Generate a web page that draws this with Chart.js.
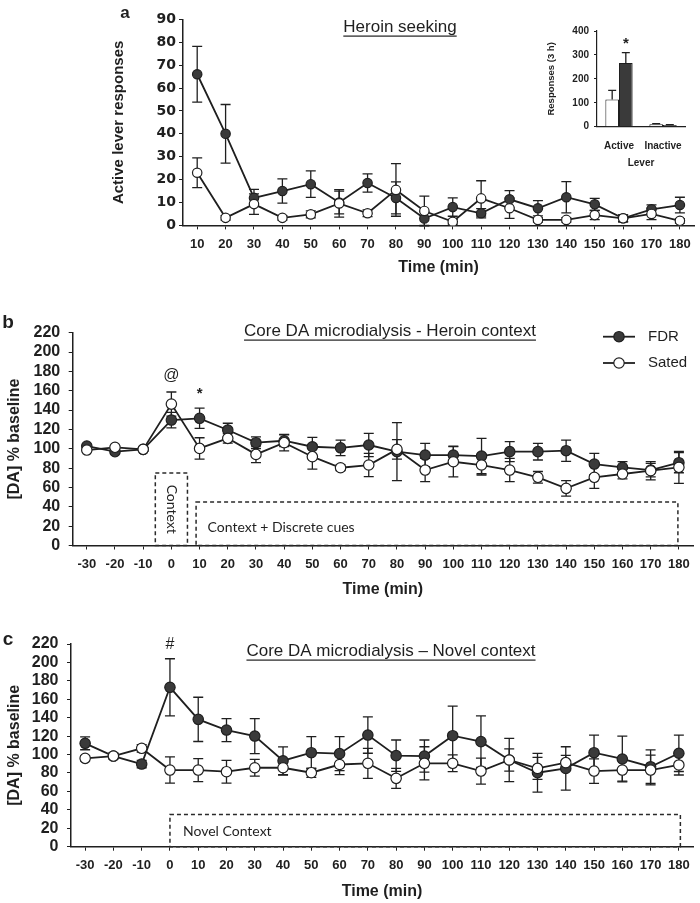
<!DOCTYPE html>
<html>
<head>
<meta charset="utf-8">
<script src="https://cdn.jsdelivr.net/npm/chart.js@4.4.0/dist/chart.umd.min.js"></script>
<style>
body { margin: 0; background: #fff; width: 700px; height: 903px; overflow: hidden; position: relative; }
canvas { position: absolute; left: 0; }
</style>
</head>
<body>
<canvas id="chartA" width="700" height="290" style="top:0px"></canvas>
<canvas id="chartIn" width="155" height="160" style="left:540px;top:20px"></canvas>
<canvas id="chartB" width="700" height="310" style="top:300px"></canvas>
<canvas id="chartC" width="700" height="283" style="top:620px"></canvas>
<script>
// panel a - heroin seeking, active lever responses per 10 min
var timesA = ['10','20','30','40','50','60','70','80','90','100','110','120','130','140','150','160','170','180'];
var fdrA     = [66, 40, 12, 15, 18, 10, 18.5, 12, 3, 8, 5.3, 11.4, 7.5, 12.3, 9.2, 3.1, 7, 8.9];
var fdrAErr  = [12.2, 12.8, 3.7, 5.3, 5.8, 5, 4, 7, 3, 4, 2, 3.8, 3.3, 6.8, 2.6, 1.5, 2, 3.4];
var satedA    = [23, 3.3, 9.3, 3.3, 4.8, 9.6, 5.3, 15.5, 6.3, 1.6, 11.8, 7.5, 2.4, 2.4, 4.5, 3.1, 5, 2];
var satedAErr = [6.5, 1, 4.5, 1, 1.5, 6, 1.5, 11.5, 6.5, 1, 7.7, 4.4, 1, 1, 2, 1.5, 2.5, 1];

// inset - total responses (3 h)
var leverCats = ['Active', 'Inactive'];
var satedTot    = [114, 10];
var satedTotErr = [38, 3];
var fdrTot    = [266, 7];
var fdrTotErr = [44, 2];

// panels b and c - [DA] % baseline
var timesBC = ['-30','-20','-10','0','10','20','30','40','50','60','70','80','90','100','110','120','130','140','150','160','170','180'];
var fdrB     = [102.8, 97, 99.4, 129.7, 131.5, 119.4, 106.3, 108.3, 102.1, 101, 103.9, 97, 93.5, 93.5, 92.5, 97, 97, 98, 84.2, 80.8, 78, 85.6];
var fdrBErr  = [2, 2, 2, 8, 10.5, 7, 6, 6, 9.7, 8, 12, 30, 12, 9.3, 18.3, 10.3, 8.6, 11, 11, 6, 7, 10.4];
var satedB    = [98.7, 101.5, 99.4, 146.2, 100.4, 110.8, 94.2, 106.3, 91.8, 80.4, 83.2, 99.4, 78, 86.6, 83.2, 78, 70.5, 59.1, 70.5, 73.9, 77.3, 80.8];
var satedBErr = [2, 2, 2, 12.5, 11, 5, 8.6, 8.5, 12.8, 3, 12, 10, 12, 15.6, 10.3, 12, 6, 8, 11.5, 5, 9.5, 16.5];

var fdrC     = [112.2, 98.4, 89.7, 173, 138.2, 126.6, 120.1, 93.3, 102, 101, 121.2, 98.8, 98.4, 120.5, 114, 94.1, 80.3, 85, 102, 95.2, 86.8, 101.4];
var fdrCErr  = [7, 3, 4, 31, 24, 12.5, 19, 15, 17.4, 18.4, 19.8, 17, 17.4, 32, 28, 23.5, 21, 23.5, 19.2, 24.9, 18.2, 19.8];
var satedC    = [95.9, 98.4, 106.8, 83.2, 83.2, 81.4, 85.7, 85.7, 80.3, 89.2, 90.5, 74.2, 90.5, 90.5, 82.1, 94.1, 85, 91.2, 82.1, 83.2, 83.2, 88.7];
var satedCErr = [3, 3, 4, 14.3, 12.5, 12.3, 9, 8, 5, 11, 16.3, 10.8, 18, 9.1, 14.1, 12, 12, 8, 13.3, 12, 16.2, 10.9];

var ticksA = [0, 10, 20, 30, 40, 50, 60, 70, 80, 90];
var ticksBC = [0, 20, 40, 60, 80, 100, 120, 140, 160, 180, 200, 220];
var ticksIn = [0, 100, 200, 300, 400];

Chart.defaults.font.family = "'Liberation Sans', Arial, sans-serif";
Chart.defaults.color = '#1a1a1a';

var INK = '#1f1f1f';
var DARK = '#3a3a3a';

// error bars (Excel style, drawn behind lines and markers)
var errBars = {
    id: 'errBars',
    beforeDatasetsDraw: function (chart) {
        var ctx = chart.ctx, ys = chart.scales.y;
        ctx.save();
        ctx.strokeStyle = INK;
        ctx.lineWidth = 1.3;
        chart.data.datasets.forEach(function (ds, i) {
            if (!ds.err) return;
            var meta = chart.getDatasetMeta(i);
            meta.data.forEach(function (el, j) {
                var v = ds.data[j], e = ds.err[j];
                var x = el.x;
                var yt = ys.getPixelForValue(v + e);
                var yb = ds.upOnly ? ys.getPixelForValue(v) : ys.getPixelForValue(v - e);
                var cap = ds.cap || 5;
                ctx.beginPath();
                ctx.moveTo(x, yt); ctx.lineTo(x, yb);
                ctx.moveTo(x - cap, yt); ctx.lineTo(x + cap, yt);
                if (!ds.upOnly) { ctx.moveTo(x - cap, yb); ctx.lineTo(x + cap, yb); }
                ctx.stroke();
            });
        });
        ctx.restore();
    }
};

function uText(ctx, txt, cx, cy, size) {
    ctx.save();
    ctx.font = size + "px 'Liberation Sans', Arial, sans-serif";
    ctx.textAlign = 'center';
    ctx.textBaseline = 'middle';
    ctx.fillStyle = INK;
    ctx.fillText(txt, cx, cy);
    var w = ctx.measureText(txt).width;
    ctx.fillRect(cx - w / 2, cy + size * 0.5, w, 1.2);
    ctx.restore();
}

function plainText(ctx, txt, x, y, font, align) {
    ctx.save();
    ctx.font = font;
    ctx.textAlign = align || 'center';
    ctx.textBaseline = 'middle';
    ctx.fillStyle = INK;
    ctx.fillText(txt, x, y);
    ctx.restore();
}

function dashBox(ctx, x0, y0, x1, y1) {
    ctx.save();
    ctx.setLineDash([4, 3]);
    ctx.lineWidth = 1.5;
    ctx.strokeStyle = '#2a2a2a';
    ctx.strokeRect(x0, y0, x1 - x0, y1 - y0);
    ctx.restore();
}

function lineSet(label, data, err, fill, r) {
    return {
        label: label,
        data: data,
        err: err,
        borderColor: INK,
        borderWidth: 1.8,
        pointRadius: r,
        pointHoverRadius: r,
        pointBackgroundColor: fill,
        pointBorderColor: INK,
        pointBorderWidth: 1.2,
        tension: 0,
        fill: false
    };
}

function fixedTicks(vals) {
    return function (s) { s.ticks = vals.map(function (v) { return {value: v}; }); };
}

function lineOpts(o) {
    return {
        responsive: false,
        animation: false,
        devicePixelRatio: 1,
        layout: {padding: {left: 0, right: o.padRight, top: o.padTop, bottom: 0}},
        plugins: {legend: {display: false}, tooltip: {enabled: false}},
        scales: {
            x: {
                type: 'category',
                offset: true,
                afterFit: function (s) { s.height = o.xHeight; },
                grid: {display: true, drawOnChartArea: false, drawTicks: true, tickLength: 4, color: INK},
                border: {display: true, color: INK, width: 1.5},
                ticks: {font: {size: 13, weight: 'bold'}, color: INK, padding: o.xTickPad, maxRotation: 0, autoSkip: false},
                title: {display: true, text: 'Time (min)', font: {size: 16, weight: 'bold'}, color: INK, padding: {top: 0, bottom: o.xTitlePad}}
            },
            y: {
                min: 0, max: o.yMax,
                afterFit: function (s) { s.width = o.yWidth; },
                afterBuildTicks: fixedTicks(o.yTicks),
                grid: {display: true, drawOnChartArea: false, drawTicks: true, tickLength: 4, color: INK},
                border: {display: true, color: INK, width: 1.5},
                ticks: {font: o.yTickFont, color: INK, padding: o.yTickPad, autoSkip: false},
                title: {display: true, text: o.yTitle, font: {size: o.yTitleSize, weight: 'bold'}, color: INK, padding: {top: o.yTitlePad, bottom: 0}}
            }
        }
    };
}

// ---------- panel a ----------
var optsA = lineOpts({
    padRight: 5, padTop: 19.3, xHeight: 64.6, xTickPad: 6.8, xTitlePad: 12.4,
    yMax: 90, yWidth: 183, yTicks: ticksA, yTickPad: 3,
    yTickFont: {family: "'DejaVu Sans', sans-serif", size: 14, weight: 'bold'},
    yTitle: 'Active lever responses', yTitleSize: 15, yTitlePad: 110
});
new Chart(document.getElementById('chartA'), {
    type: 'line',
    data: {
        labels: timesA,
        datasets: [lineSet('Sated', satedA, satedAErr, '#ffffff', 4.7), lineSet('FDR', fdrA, fdrAErr, DARK, 4.7)]
    },
    options: optsA,
    plugins: [errBars, {
        id: 'decoA',
        afterDraw: function (chart) {
            var ctx = chart.ctx;
            plainText(ctx, 'a', 125, 13, "bold 17px 'Liberation Sans', Arial, sans-serif");
            uText(ctx, 'Heroin seeking', 400, 27, 17);
        }
    }]
});

// ---------- inset ----------
new Chart(document.getElementById('chartIn'), {
    type: 'bar',
    data: {
        labels: leverCats,
        datasets: [
            {label: 'Sated', data: satedTot, err: satedTotErr, upOnly: true, cap: 4, backgroundColor: '#ffffff', borderColor: INK, borderWidth: 1},
            {label: 'FDR', data: fdrTot, err: fdrTotErr, upOnly: true, cap: 4, backgroundColor: DARK, borderColor: INK, borderWidth: 1}
        ]
    },
    options: {
        responsive: false,
        animation: false,
        devicePixelRatio: 1,
        layout: {padding: {left: 0, right: 10, top: 10, bottom: 0}},
        plugins: {legend: {display: false}, tooltip: {enabled: false}},
        datasets: {bar: {categoryPercentage: 0.62, barPercentage: 1.0}},
        scales: {
            x: {
                afterFit: function (s) { s.height = 53.3; },
                grid: {display: false},
                border: {display: true, color: INK, width: 1.2},
                ticks: {font: {size: 10, weight: 'bold'}, color: INK, padding: 6},
                title: {display: true, text: 'Lever', font: {size: 10, weight: 'bold'}, color: INK, padding: {top: 0, bottom: 11}}
            },
            y: {
                min: 0, max: 400,
                afterFit: function (s) { s.width = 57; },
                afterBuildTicks: fixedTicks(ticksIn),
                grid: {display: true, drawOnChartArea: false, drawTicks: true, tickLength: 3, color: INK},
                border: {display: true, color: INK, width: 1.2},
                ticks: {font: {size: 10, weight: 'bold'}, color: INK, padding: 5, autoSkip: false},
                title: {display: true, text: 'Responses (3 h)', font: {size: 9.5, weight: 'bold'}, color: INK, padding: {top: 6, bottom: 0}}
            }
        }
    },
    plugins: [{
        id: 'errIn',
        afterDatasetsDraw: function (chart) { errBars.beforeDatasetsDraw(chart); }
    }, {
        id: 'starIn',
        afterDraw: function (chart) {
            var el = chart.getDatasetMeta(1).data[0];
            var y = chart.scales.y.getPixelForValue(fdrTot[0] + fdrTotErr[0]);
            plainText(chart.ctx, '*', el.x, y - 9, "bold 15px 'Liberation Sans', Arial, sans-serif");
        }
    }]
});

// ---------- panel b ----------
var optsB = lineOpts({
    padRight: 7, padTop: 32.7, xHeight: 64.5, xTickPad: 7.2, xTitlePad: 10.4,
    yMax: 220, yWidth: 72.7, yTicks: ticksBC, yTickPad: 8.5,
    yTickFont: {size: 16, weight: 'bold'},
    yTitle: '[DA] % baseline', yTitleSize: 16, yTitlePad: 5.4
});
new Chart(document.getElementById('chartB'), {
    type: 'line',
    data: {
        labels: timesBC,
        datasets: [lineSet('Sated', satedB, satedBErr, '#ffffff', 5.2), lineSet('FDR', fdrB, fdrBErr, DARK, 5.2)]
    },
    options: optsB,
    plugins: [errBars, {
        id: 'decoB',
        afterDraw: function (chart) {
            var ctx = chart.ctx, xs = chart.scales.x, ys = chart.scales.y;
            var step = xs.getPixelForValue(1) - xs.getPixelForValue(0);
            var x0 = xs.getPixelForValue(3);
            var yAxis = ys.getPixelForValue(0);
            plainText(ctx, 'b', 8, 23, "bold 19px 'Liberation Sans', Arial, sans-serif");
            uText(ctx, 'Core DA microdialysis - Heroin context', 390, 31, 17);
            plainText(ctx, '@', x0, ys.getPixelForValue(176), "16px 'Liberation Sans', Arial, sans-serif");
            plainText(ctx, '*', xs.getPixelForValue(4), ys.getPixelForValue(157), "bold 15px 'Liberation Sans', Arial, sans-serif");
            // Context box
            dashBox(ctx, x0 - step * 0.57, ys.getPixelForValue(75), x0 + step * 0.57, yAxis);
            ctx.save();
            ctx.translate(x0, (ys.getPixelForValue(75) + yAxis) / 2);
            ctx.rotate(Math.PI / 2);
            plainText(ctx, 'Context', 0, 0, "14px Lato, 'Open Sans', sans-serif");
            ctx.restore();
            // Context + Discrete cues box
            var x10 = xs.getPixelForValue(4);
            dashBox(ctx, x10 - 3.5, ys.getPixelForValue(45), xs.getPixelForValue(21) - 1, yAxis);
            plainText(ctx, 'Context + Discrete cues', x10 + 8, ys.getPixelForValue(19), "14px Lato, 'Open Sans', sans-serif", 'left');
            // legend
            var sets = [[DARK, 'FDR', 36.7], ['#ffffff', 'Sated', 63]];
            sets.forEach(function (s) {
                ctx.save();
                ctx.strokeStyle = INK; ctx.lineWidth = 1.8;
                ctx.beginPath(); ctx.moveTo(603, s[2]); ctx.lineTo(635, s[2]); ctx.stroke();
                ctx.beginPath(); ctx.arc(619, s[2], 5.2, 0, Math.PI * 2);
                ctx.fillStyle = s[0]; ctx.fill(); ctx.lineWidth = 1.2; ctx.stroke();
                ctx.restore();
                plainText(ctx, s[1], 648, s[2], "15px 'Liberation Sans', Arial, sans-serif", 'left');
            });
        }
    }]
});

// ---------- panel c ----------
var optsC = lineOpts({
    padRight: 7, padTop: 24, xHeight: 56.3, xTickPad: 7.2, xTitlePad: 1.7,
    yMax: 220, yWidth: 71, yTicks: ticksBC, yTickPad: 8.5,
    yTickFont: {size: 16, weight: 'bold'},
    yTitle: '[DA] % baseline', yTitleSize: 16, yTitlePad: 5.4
});
new Chart(document.getElementById('chartC'), {
    type: 'line',
    data: {
        labels: timesBC,
        datasets: [lineSet('Sated', satedC, satedCErr, '#ffffff', 5.2), lineSet('FDR', fdrC, fdrCErr, DARK, 5.2)]
    },
    options: optsC,
    plugins: [errBars, {
        id: 'decoC',
        afterDraw: function (chart) {
            var ctx = chart.ctx, xs = chart.scales.x, ys = chart.scales.y;
            var x0 = xs.getPixelForValue(3);
            var yAxis = ys.getPixelForValue(0);
            plainText(ctx, 'c', 8, 20, "bold 19px 'Liberation Sans', Arial, sans-serif");
            uText(ctx, 'Core DA microdialysis \u2013 Novel context', 391, 31, 17);
            plainText(ctx, '#', x0, ys.getPixelForValue(219), "16px 'Liberation Sans', Arial, sans-serif");
            dashBox(ctx, x0, ys.getPixelForValue(35), xs.getPixelForValue(21) + 1.5, yAxis);
            plainText(ctx, 'Novel Context', x0 + 13, ys.getPixelForValue(16), "14px Lato, 'Open Sans', sans-serif", 'left');
        }
    }]
});
</script>
</body>
</html>
